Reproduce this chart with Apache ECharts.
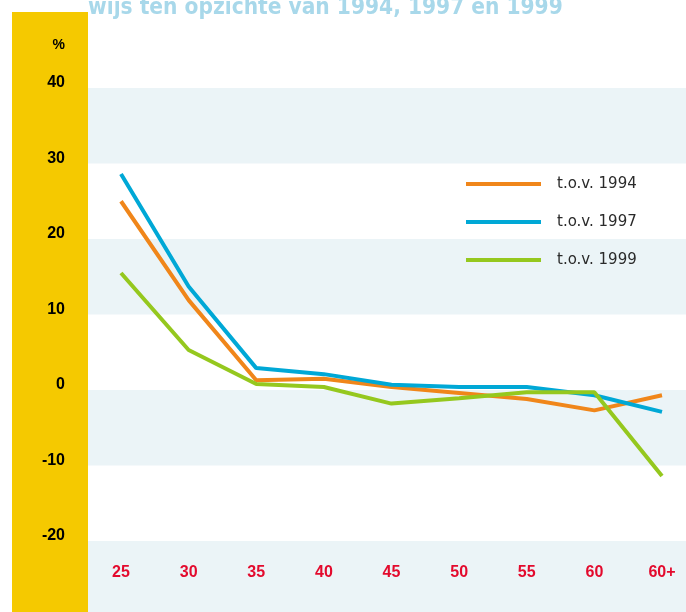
<!DOCTYPE html>
<html>
<head>
<meta charset="utf-8">
<script src="https://cdn.jsdelivr.net/npm/echarts@6/dist/echarts.min.js"></script>
<style>
html,body{margin:0;padding:0;background:#fff;}
#chart{width:686px;height:612px;}
</style>
</head>
<body>
<div id="chart"></div>
<script>
const categories = ['25', '30', '35', '40', '45', '50', '55', '60', '60+'];
const seriesNames = ['t.o.v. 1994', 't.o.v. 1997', 't.o.v. 1999'];
const v1994 = [25.0, 11.9, 1.3, 1.5, 0.4, -0.4, -1.2, -2.7, -0.7];
const v1997 = [28.6, 13.7, 2.9, 2.1, 0.7, 0.4, 0.4, -0.7, -2.9];
const v1999 = [15.5, 5.3, 0.8, 0.4, -1.8, -1.1, -0.3, -0.3, -11.4];
const yMin = -20, yMax = 40, yStep = 10;
const titleText = 'wijs ten opzichte van 1994, 1997 en 1999';

const chart = echarts.init(document.getElementById('chart'), null, {renderer: 'canvas'});
const colors = ['#f0861a', '#00a8d6', '#95c81e'];
const values = [v1994, v1997, v1999];
const bandBlue = '#ebf4f7';
const plotTop = 88, plotHeight = 453;

chart.setOption({
  animation: false,
  backgroundColor: '#ffffff',
  title: {
    text: titleText,
    left: 88,
    top: -3,
    padding: 0,
    textStyle: {
      color: '#a8d8ea',
      fontSize: 22.5,
      fontWeight: 'bold',
      fontFamily: '"DejaVu Sans Condensed", "Liberation Sans Narrow", sans-serif'
    }
  },
  legend: {
    orient: 'vertical',
    left: 466,
    top: 176,
    padding: 0,
    itemWidth: 75,
    itemHeight: 4,
    itemGap: 22,
    icon: 'rect',
    data: seriesNames,
    textStyle: {
      color: '#2a2a2a',
      fontSize: 15,
      lineHeight: 16,
      fontFamily: '"DejaVu Sans", sans-serif',
      padding: [0, 0, 0, 11]
    }
  },
  grid: [
    {left: 88, right: 0, top: plotTop, height: plotHeight, show: false},
    {left: 121, width: 541, top: plotTop, height: plotHeight, show: false},
    {left: 12, width: 76, top: 12, bottom: 0, show: true, backgroundColor: '#f5c900', borderWidth: 0},
    {left: 88, right: 0, top: plotTop + plotHeight, bottom: 0, show: true, backgroundColor: bandBlue, borderWidth: 0}
  ],
  xAxis: [
    {gridIndex: 0, type: 'value', show: false, min: 0, max: 1},
    {
      gridIndex: 1, type: 'category', data: categories, boundaryGap: false,
      axisLine: {show: false}, axisTick: {show: false}, splitLine: {show: false},
      axisLabel: {
        margin: 24, color: '#e30a2d', fontSize: 16, fontWeight: 'bold', lineHeight: 16,
        fontFamily: '"Liberation Sans", Arial, sans-serif', verticalAlign: 'top'
      }
    },
    {gridIndex: 2, type: 'value', show: false},
    {gridIndex: 3, type: 'value', show: false}
  ],
  yAxis: [
    {
      gridIndex: 0, type: 'value', min: yMin, max: yMax, interval: yStep,
      name: '%', nameLocation: 'end', nameGap: 36,
      nameTextStyle: {
        align: 'right', color: '#000', fontSize: 14, fontWeight: 'bold',
        fontFamily: '"Liberation Sans", Arial, sans-serif', padding: [0, 23, 0, 0]
      },
      axisLine: {show: false}, axisTick: {show: false}, splitLine: {show: false},
      splitArea: {show: true, areaStyle: {color: ['#ffffff', bandBlue]}},
      axisLabel: {
        margin: 23, color: '#000', fontSize: 16, fontWeight: 'bold',
        fontFamily: '"Liberation Sans", Arial, sans-serif',
        verticalAlign: 'bottom', lineHeight: 10
      }
    },
    {gridIndex: 1, type: 'value', min: yMin, max: yMax, interval: yStep, show: false, splitLine: {show: false}},
    {gridIndex: 2, type: 'value', show: false},
    {gridIndex: 3, type: 'value', show: false}
  ],
  series: seriesNames.map((n, i) => ({
    name: n,
    type: 'line',
    xAxisIndex: 1,
    yAxisIndex: 1,
    data: values[i],
    symbol: 'none',
    color: colors[i],
    lineStyle: {width: 4, color: colors[i]},
    z: 3 + i
  }))
});
</script>
</body>
</html>
